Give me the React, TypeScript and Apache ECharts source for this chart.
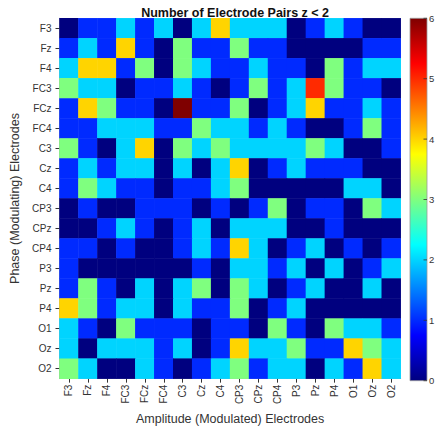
import React, { useEffect, useRef } from 'react';
import * as echarts from 'echarts';

// Electrode labels shared by both axes
const electrodes = ['F3', 'Fz', 'F4', 'FC3', 'FCz', 'FC4', 'C3', 'Cz', 'C4', 'CP3', 'CPz', 'CP4', 'P3', 'Pz', 'P4', 'O1', 'Oz', 'O2'];

// Counts per phase electrode (row), one value per amplitude electrode (column)
const rowF3 = [0, 1, 1, 2, 1, 2, 0, 2, 4, 2, 2, 2, 0, 1, 2, 1, 0, 0];
const rowFz = [1, 2, 1, 4, 1, 0, 3, 1, 1, 3, 1, 1, 0, 0, 0, 0, 1, 1];
const rowF4 = [2, 4, 4, 1, 3, 0, 3, 2, 1, 1, 2, 1, 1, 0, 3, 1, 2, 2];
const rowFC3 = [3, 2, 2, 0, 1, 1, 2, 1, 0, 1, 3, 1, 2, 5, 3, 1, 1, 0];
const rowFCz = [1, 4, 3, 1, 1, 0, 6, 1, 1, 3, 0, 1, 2, 4, 1, 1, 2, 1];
const rowFC4 = [1, 1, 2, 2, 2, 1, 1, 3, 2, 2, 1, 2, 1, 0, 0, 1, 3, 1];
const rowC3 = [3, 1, 0, 2, 4, 0, 3, 2, 3, 2, 2, 2, 2, 3, 2, 0, 0, 1];
const rowCz = [1, 2, 1, 2, 2, 0, 2, 0, 2, 4, 0, 1, 2, 1, 1, 1, 0, 0];
const rowC4 = [1, 3, 2, 1, 1, 0, 1, 1, 2, 3, 0, 0, 0, 0, 0, 2, 2, 0];
const rowCP3 = [0, 1, 0, 0, 1, 1, 1, 0, 1, 0, 1, 3, 0, 1, 1, 0, 3, 2];
const rowCPz = [0, 0, 1, 2, 1, 0, 1, 2, 0, 2, 2, 2, 0, 0, 1, 0, 0, 0];
const rowCP4 = [1, 1, 0, 1, 0, 0, 1, 2, 1, 4, 2, 0, 1, 2, 0, 1, 0, 1];
const rowP3 = [1, 0, 0, 0, 0, 0, 0, 1, 0, 2, 2, 1, 2, 0, 2, 0, 1, 2];
const rowPz = [1, 3, 1, 0, 2, 0, 2, 3, 0, 3, 2, 0, 1, 2, 0, 0, 2, 0];
const rowP4 = [4, 3, 1, 2, 2, 0, 2, 1, 1, 3, 0, 1, 2, 0, 0, 0, 0, 0];
const rowO1 = [2, 1, 0, 3, 1, 1, 1, 0, 1, 1, 0, 3, 1, 0, 3, 2, 2, 1];
const rowOz = [2, 0, 2, 2, 2, 1, 2, 0, 1, 4, 2, 2, 3, 1, 1, 4, 3, 2];
const rowO2 = [3, 2, 0, 0, 2, 1, 0, 1, 2, 3, 1, 2, 2, 0, 2, 1, 4, 2];

const phaseRows = [rowF3, rowFz, rowF4, rowFC3, rowFCz, rowFC4, rowC3, rowCz, rowC4, rowCP3, rowCPz, rowCP4, rowP3, rowPz, rowP4, rowO1, rowOz, rowO2];

const colorbarTicks = [0, 1, 2, 3, 4, 5, 6];
const valueMin = 0;
const valueMax = 6;

// Jet colormap sampled at evenly spaced stops
const jetColors = ['#00007f', '#0000ff', '#007fff', '#00ffff', '#7fff7f', '#ffff00', '#ff7f00', '#ff0000', '#7f0000'];

export default function App() {
  const ref = useRef<HTMLDivElement>(null);

  useEffect(() => {
    const chart = echarts.init(ref.current!, null, { renderer: 'svg' });

    const cells: number[][] = [];
    phaseRows.forEach((row, y) => row.forEach((v, x) => cells.push([x, y, v])));

    const gridLeft = 59.5;
    const gridTop = 18.3;
    const gridW = 341.2;
    const gridH = 362.4;
    const cbX = 410;
    const cbW = 17;
    const font = 'Arial, "Liberation Sans", Helvetica, sans-serif';
    const textColor = '#333';

    const gradient = new echarts.graphic.LinearGradient(
      0, 1, 0, 0,
      jetColors.map((c, i) => ({ offset: i / (jetColors.length - 1), color: c }))
    );

    const cbGraphics: any[] = [
      {
        type: 'rect',
        shape: { x: cbX, y: gridTop, width: cbW, height: gridH },
        style: { fill: gradient, stroke: '#9a9a9a', lineWidth: 0.8 },
      },
    ];
    colorbarTicks.forEach((t) => {
      const y = gridTop + gridH * (1 - (t - valueMin) / (valueMax - valueMin));
      cbGraphics.push({
        type: 'line',
        shape: { x1: cbX + cbW - 3.5, y1: y, x2: cbX + cbW, y2: y },
        style: { stroke: '#333', lineWidth: 0.8 },
      });
      cbGraphics.push({
        type: 'text',
        x: cbX + cbW + 2,
        y,
        style: {
          text: String(t),
          fill: textColor,
          font: `9.5px ${font}`,
          textAlign: 'left',
          textVerticalAlign: 'middle',
        },
      });
    });

    chart.setOption({
      animation: false,
      backgroundColor: '#fff',
      textStyle: { fontFamily: font },
      title: {
        text: 'Number of Electrode Pairs z < 2',
        left: gridLeft + gridW / 2,
        textAlign: 'center',
        top: 1,
        textStyle: { fontSize: 12.5, fontWeight: 'bold', color: '#111', fontFamily: font },
      },
      grid: { left: gridLeft, top: gridTop, width: gridW, height: gridH },
      xAxis: {
        type: 'category',
        data: electrodes,
        name: 'Amplitude (Modulated) Electrodes',
        nameLocation: 'middle',
        nameGap: 33,
        nameTextStyle: { fontSize: 12.5, color: textColor, fontFamily: font },
        axisLine: { show: true, lineStyle: { color: '#9a9a9a', width: 0.8 } },
        axisTick: { show: true, alignWithLabel: true, length: 4, lineStyle: { color: '#333' } },
        axisLabel: { rotate: 90, margin: 6, fontSize: 10, color: textColor, fontFamily: font },
        splitArea: { show: false },
        splitLine: { show: false },
      },
      yAxis: {
        type: 'category',
        data: electrodes,
        inverse: true,
        name: 'Phase (Modulating) Electrodes',
        nameLocation: 'middle',
        nameGap: 36,
        nameTextStyle: { fontSize: 12.5, color: textColor, fontFamily: font },
        axisLine: { show: true, lineStyle: { color: '#9a9a9a', width: 0.8 } },
        axisTick: { show: true, alignWithLabel: true, length: 4, lineStyle: { color: '#333' } },
        axisLabel: { margin: 8, fontSize: 10, color: textColor, fontFamily: font },
        splitArea: { show: false },
        splitLine: { show: false },
      },
      visualMap: {
        show: false,
        type: 'continuous',
        min: valueMin,
        max: valueMax,
        dimension: 2,
        inRange: { color: jetColors },
      },
      series: [
        {
          type: 'heatmap',
          data: cells,
          itemStyle: { borderWidth: 0 },
          emphasis: { disabled: true },
        },
      ],
      graphic: cbGraphics,
    });

    return () => chart.dispose();
  }, []);

  return <div ref={ref} style={{ position: 'fixed', left: 0, top: 0, width: 437, height: 430 }} />;
}
